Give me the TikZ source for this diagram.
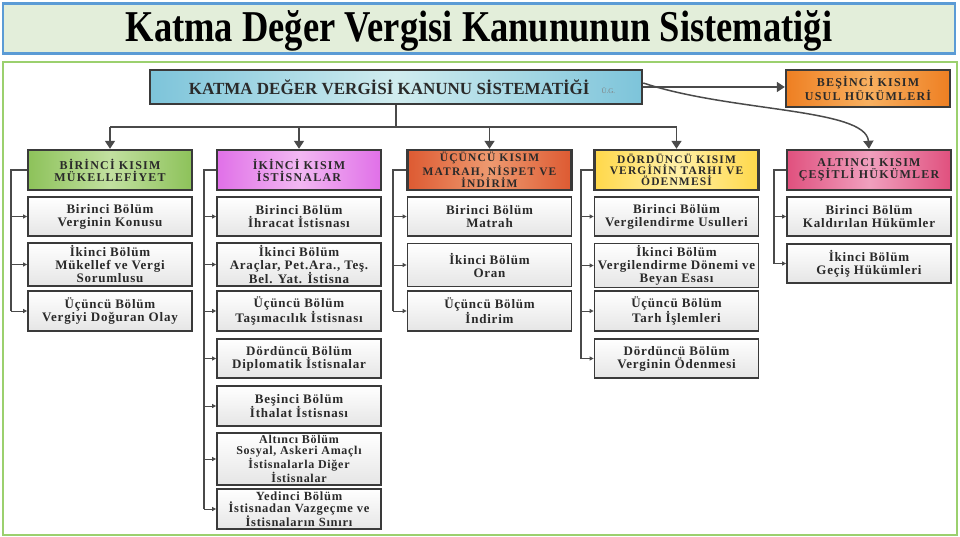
\documentclass[tikz,border=0pt]{standalone}
\usepackage{fontspec}
\setmainfont{Liberation Serif}
\newfontfamily\wideserif[LetterSpace=6]{Liberation Serif}
\newfontfamily\headserif[LetterSpace=10]{Liberation Serif}
\usetikzlibrary{arrows.meta}
\definecolor{titlefill}{HTML}{E3EEDA}
\definecolor{titleline}{HTML}{5B9BD5}
\definecolor{framegreen}{HTML}{9BD06E}
\definecolor{boxline}{HTML}{3A3A3A}
\definecolor{textdark}{HTML}{2A2A2A}
\definecolor{connline}{HTML}{4A4A4A}
\definecolor{gEdge}{HTML}{8DC25A}\definecolor{gMid}{HTML}{C2E0A0}
\definecolor{mEdge}{HTML}{E070E8}\definecolor{mMid}{HTML}{F2B8F2}
\definecolor{rEdge}{HTML}{DD5A32}\definecolor{rMid}{HTML}{EE9A70}
\definecolor{yEdge}{HTML}{FFD84A}\definecolor{yMid}{HTML}{FFF0A8}
\definecolor{pEdge}{HTML}{E0507E}\definecolor{pMid}{HTML}{F0A0BE}
\definecolor{oEdge}{HTML}{EE7F22}\definecolor{oMid}{HTML}{F8B060}
\definecolor{bEdge}{HTML}{7DC4DA}\definecolor{bMid}{HTML}{D0ECEF}
\begin{document}
\begin{tikzpicture}[x=1pt,y=-1pt,
  item/.style={draw=boxline, line width=1.8pt, top color=white, bottom color=black!10,
    minimum width=164pt, minimum height=40pt, inner sep=0pt, align=center,
    font=\wideserif\bfseries\fontsize{13}{13}\selectfont, text=textdark},
  head/.style={item, line width=2.4pt, font=\headserif\bfseries\fontsize{12}{12}\selectfont},
  headthree/.style={head, font=\headserif\bfseries\fontsize{11.5}{11}\selectfont},
  mainarrow/.style={draw=connline, line width=1.5pt, -{Triangle[width=10pt,length=8pt]}},
  small/.style={draw=connline, line width=1pt, -{Triangle[width=4pt,length=4pt]}},
  bracket/.style={draw=connline, line width=1.1pt}
]
\useasboundingbox (0,0) rectangle (960,537);
\fill[white] (0,0) rectangle (960,537);
% title
\node[draw=titleline, line width=2.8pt, fill=titlefill, minimum width=952pt, minimum height=50pt, inner sep=0pt] (title) at (479,28.5) {};
\node[inner sep=0pt] (titletext) at (479,30.5)
  {\scalebox{0.83}[1]{\fontsize{44}{44}\selectfont\bfseries Katma Değer Vergisi Kanununun Sistematiği}};
\draw[framegreen, line width=2.5pt] (3,62) rectangle (957,535);
% top
\node[item, line width=2.6pt, left color=bEdge, right color=bEdge, middle color=bMid,
  minimum width=492pt, minimum height=34pt, font=\bfseries\fontsize{17}{18}\selectfont] (top) at (396,87)
  {\hspace{12pt}KATMA DEĞER VERGİSİ KANUNU SİSTEMATİĞİ\hspace{12pt}\raisebox{1pt}{\fontsize{7}{7}\selectfont\mdseries\color{gray}Ü.G.}};
\node[head, left color=oEdge, right color=oEdge, middle color=oMid, minimum height=37pt] (bes) at (868,88.5)
  {BEŞİNCİ KISIM\\USUL HÜKÜMLERİ};
% headers
\node[head, left color=gEdge, right color=gEdge, middle color=gMid] (h1) at (110,170) {BİRİNCİ KISIM\\MÜKELLEFİYET};
\node[head, left color=mEdge, right color=mEdge, middle color=mMid] (h2) at (299,170) {İKİNCİ KISIM\\İSTİSNALAR};
\node[headthree, left color=rEdge, right color=rEdge, middle color=rMid] (h3) at (489.5,170) {ÜÇÜNCÜ KISIM\\MATRAH, NİSPET VE\\İNDİRİM};
\node[headthree, left color=yEdge, right color=yEdge, middle color=yMid] (h4) at (676.5,170) {DÖRDÜNCÜ KISIM\\VERGİNİN TARHI VE\\ÖDENMESİ};
\node[head, left color=pEdge, right color=pEdge, middle color=pMid] (h5) at (869,170) {ALTINCI KISIM\\ÇEŞİTLİ HÜKÜMLER};
% column 1
\node[item, minimum height=39pt] (a1) at (110,216.5) {Birinci Bölüm\\Verginin Konusu};
\node[item, minimum height=43pt] (a2) at (110,264.5) {İkinci Bölüm\\Mükellef ve Vergi\\Sorumlusu};
\node[item] (a3) at (110,311) {Üçüncü Bölüm\\Vergiyi Doğuran Olay};
% column 2
\node[item, minimum height=39pt] (b1) at (299,216.5) {Birinci Bölüm\\İhracat İstisnası};
\node[item, minimum height=43pt] (b2) at (299,264.5) {İkinci Bölüm\\Araçlar, Pet.Ara., Teş.\\Bel. Yat. İstisna};
\node[item] (b3) at (299,311) {Üçüncü Bölüm\\Taşımacılık İstisnası};
\node[item, minimum height=39pt] (b4) at (299,358.5) {Dördüncü Bölüm\\Diplomatik İstisnalar};
\node[item] (b5) at (299,406) {Beşinci Bölüm\\İthalat İstisnası};
\node[item, minimum height=52pt, font=\wideserif\bfseries\fontsize{12}{11.5}\selectfont] (b6) at (299,459) {Altıncı Bölüm\\Sosyal, Askeri Amaçlı\\İstisnalarla Diğer\\İstisnalar};
\node[item, font=\wideserif\bfseries\fontsize{12.5}{12}\selectfont] (b7) at (299,509) {Yedinci Bölüm\\İstisnadan Vazgeçme ve\\İstisnaların Sınırı};
% column 3
\node[item, minimum height=39pt] (c1) at (489.5,216.5) {Birinci Bölüm\\Matrah};
\node[item, minimum height=43pt] (c2) at (489.5,265) {İkinci Bölüm\\Oran};
\node[item] (c3) at (489.5,311) {Üçüncü Bölüm\\İndirim};
% column 4
\node[item, minimum height=39pt] (d1) at (676.5,216.5) {Birinci Bölüm\\Vergilendirme Usulleri};
\node[item, minimum height=44pt] (d2) at (676.5,265.5) {İkinci Bölüm\\Vergilendirme Dönemi ve\\Beyan Esası};
\node[item] (d3) at (676.5,311) {Üçüncü Bölüm\\Tarh İşlemleri};
\node[item, minimum height=39pt] (d4) at (676.5,358.5) {Dördüncü Bölüm\\Verginin Ödenmesi};
% column 5
\node[item, minimum height=39pt] (e1) at (869,216.5) {Birinci Bölüm\\Kaldırılan Hükümler};
\node[item, minimum height=39pt] (e2) at (869,263.5) {İkinci Bölüm\\Geçiş Hükümleri};
% top connectors
\draw[mainarrow] (top.east) -- (top.east -| bes.west);
\draw[mainarrow] ([yshift=4pt]top.east) .. controls (730,112) and (866,108) .. (h5.north);
\coordinate (j) at (396,127);
\draw[draw=connline, line width=1.5pt] (top.south) -- (j);
\draw[draw=connline, line width=1.5pt] (j -| h1.north) -- (j -| h4.north);
\foreach \h in {h1,h2,h3,h4} \draw[mainarrow] (j -| \h.north) -- (\h.north);
% brackets
\coordinate (x1) at (11,0);
\coordinate (x2) at (204,0);
\coordinate (x3) at (393,0);
\coordinate (x4) at (581,0);
\coordinate (x5) at (774,0);
\draw[bracket] (h1.west) -- (h1.west -| x1) -- (a3.west -| x1);
\foreach \n in {a1,a2,a3} \draw[small] (\n.west -| x1) -- (\n.west);
\draw[bracket] (h2.west) -- (h2.west -| x2) -- (b7.west -| x2);
\foreach \n in {b1,b2,b3,b4,b5,b6,b7} \draw[small] (\n.west -| x2) -- (\n.west);
\draw[bracket] (h3.west) -- (h3.west -| x3) -- (c3.west -| x3);
\foreach \n in {c1,c2,c3} \draw[small] (\n.west -| x3) -- (\n.west);
\draw[bracket] (h4.west) -- (h4.west -| x4) -- (d4.west -| x4);
\foreach \n in {d1,d2,d3,d4} \draw[small] (\n.west -| x4) -- (\n.west);
\draw[bracket] (h5.west) -- (h5.west -| x5) -- (e2.west -| x5);
\foreach \n in {e1,e2} \draw[small] (\n.west -| x5) -- (\n.west);
\end{tikzpicture}
\end{document}
